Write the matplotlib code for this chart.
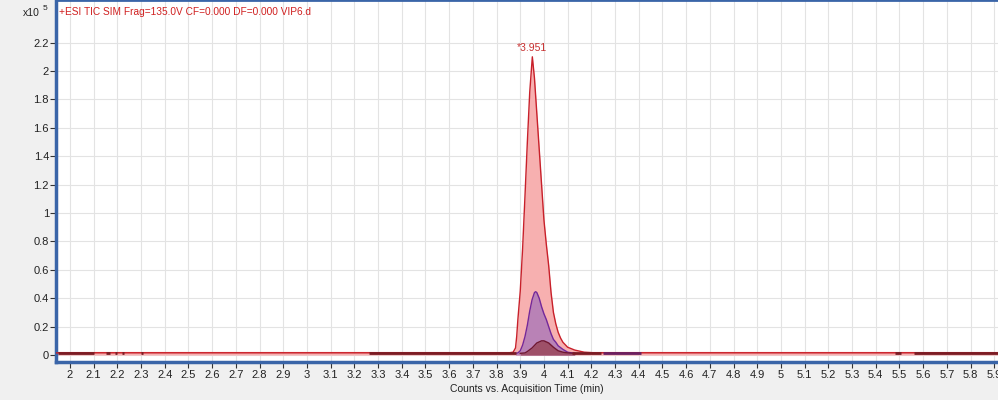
import matplotlib
matplotlib.use("Agg")
import matplotlib.pyplot as plt
import numpy as np

plt.rcParams['font.family'] = ['Liberation Sans', 'DejaVu Sans']

title = "+ESI TIC SIM Frag=135.0V CF=0.000 DF=0.000 VIP6.d"
peak_label = "*3.951"
xlabel = "Counts vs. Acquisition Time (min)"

# Main (TIC) peak, intensity in 1e5 counts
main_t = [1.94, 3.85, 3.87, 3.88, 3.885, 3.89, 3.90, 3.91, 3.92, 3.93, 3.94, 3.951, 3.96,
          3.97, 3.98, 3.99, 4.00, 4.01, 4.02, 4.03, 4.04, 4.05, 4.06, 4.07, 4.08, 4.10,
          4.13, 4.17, 4.22, 4.30, 5.92]
main_y = [0.015, 0.015, 0.02, 0.05, 0.13, 0.25, 0.45, 0.75, 1.12, 1.5, 1.85, 2.10, 1.95,
          1.7, 1.45, 1.2, 0.95, 0.78, 0.63, 0.44, 0.3, 0.22, 0.16, 0.12, 0.09, 0.055,
          0.035, 0.02, 0.015, 0.015, 0.015]

# Second ion trace (purple)
purple_t = [3.88, 3.89, 3.90, 3.91, 3.92, 3.93, 3.94, 3.95, 3.96, 3.965, 3.97, 3.98, 3.99,
            4.00, 4.01, 4.02, 4.03, 4.04, 4.05, 4.06, 4.08, 4.10, 4.13]
purple_y = [0.012, 0.015, 0.03, 0.07, 0.13, 0.21, 0.31, 0.39, 0.44, 0.446, 0.44, 0.40, 0.34,
            0.29, 0.25, 0.20, 0.15, 0.11, 0.09, 0.065, 0.04, 0.02, 0.012]

# Third ion trace (dark red)
dark_t = [3.90, 3.92, 3.93, 3.95, 3.97, 3.99, 4.00, 4.02, 4.04, 4.06, 4.08, 4.10, 4.13]
dark_y = [0.012, 0.015, 0.025, 0.05, 0.085, 0.10, 0.10, 0.085, 0.055, 0.03, 0.02, 0.015, 0.012]

# Baseline noise segments (start, end) in min
dark_segments = [(1.95, 2.10), (2.15, 2.17), (2.19, 2.20), (2.22, 2.23), (2.30, 2.31),
                 (3.26, 3.88), (4.12, 4.24), (5.48, 5.505), (5.56, 5.92)]
purple_segments = [(4.25, 4.41)]
base_level = 0.012

x_ticks = [round(2.0 + 0.1 * i, 1) for i in range(40)]
y_ticks = [round(0.2 * i, 1) for i in range(12)]

W, H = 998, 400
fig = plt.figure(figsize=(W / 100, H / 100), dpi=100, facecolor='#f0f0f0')
ax = fig.add_axes([56 / W, 1 - 362 / H, 1 - 56 / W, 362 / H])
ax.set_facecolor('white')

ax.set_xlim(1.941, 5.916)
ax.set_ylim(-0.049, 2.5)

ax.set_xticks(x_ticks)
ax.set_xticklabels(['%g' % v for v in x_ticks])
ax.set_yticks(y_ticks)
ax.set_yticklabels(['%g' % v for v in y_ticks])
ax.grid(True, color='#e3e3e3', lw=0.8)
ax.set_axisbelow(True)
ax.tick_params(axis='both', labelsize=8, colors='#333333', length=4, width=0.8,
               labelcolor='#222222')
ax.tick_params(axis='x', pad=2)
ax.tick_params(axis='y', pad=1)

for s in ['left', 'bottom', 'top']:
    ax.spines[s].set_color('#3a65a8')
ax.spines['left'].set_linewidth(2.5)
ax.spines['bottom'].set_linewidth(2.5)
ax.spines['top'].set_linewidth(2)
ax.spines['right'].set_visible(False)

# Main peak
ax.fill_between(main_t, 0, main_y, color='#f7b0b0', lw=0, zorder=2)
ax.plot(main_t, main_y, color='#c8202a', lw=1.0, zorder=3)
# Purple trace
ax.fill_between(purple_t, 0, purple_y, color='#b982b6', lw=0, zorder=4)
ax.plot(purple_t, purple_y, color='#73289a', lw=1.0, zorder=5)
# Dark trace
ax.fill_between(dark_t, 0, dark_y, color='#9e5068', lw=0, zorder=6)
ax.plot(dark_t, dark_y, color='#701830', lw=1.0, zorder=7)

ax.plot([1.941, 5.916], [0.02, 0.02], color='#e04040', lw=0.8, zorder=1.5)
for a, b in dark_segments:
    ax.plot([a, b], [base_level, base_level], color='#7a1c24', lw=2, zorder=8,
            solid_capstyle='butt')
for a, b in purple_segments:
    ax.plot([a, b], [base_level, base_level], color='#6a2060', lw=2, zorder=8,
            solid_capstyle='butt')

ax.annotate(peak_label, xy=(3.951, 2.10), xytext=(0, 3), textcoords='offset points',
            ha='center', va='bottom', fontsize=7.5, color='#c83030')

fig.text(59 / W, 1 - 12 / H, title, ha='left', va='center', fontsize=7.3, color='#d02020')
fig.text(40 / W, 1 - 13 / H, 'x10', ha='right', va='center', fontsize=7.5, color='#222222')
fig.text(43 / W, 1 - 9 / H, '5', ha='left', va='center', fontsize=6, color='#222222')
fig.text(527 / W, 1 - 389 / H, xlabel, ha='center', va='center', fontsize=7.5, color='#222222')

fig.savefig('out.png', dpi=100, facecolor=fig.get_facecolor())
